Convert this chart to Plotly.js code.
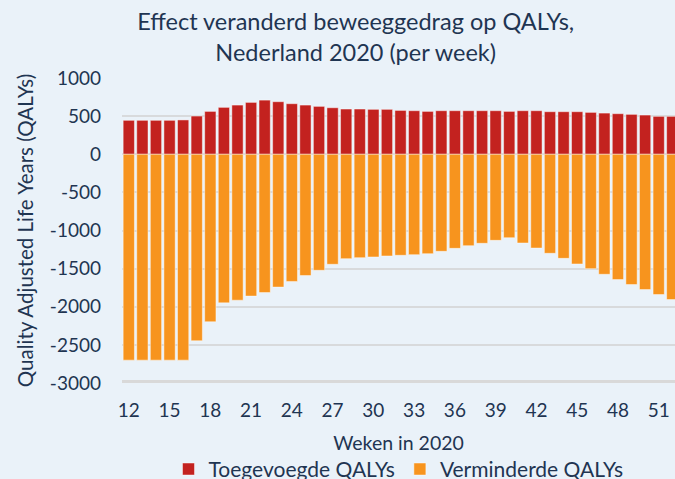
<!DOCTYPE html>
<html>
<head>
<meta charset="utf-8">
<script src="https://cdn.plot.ly/plotly-3.0.1.min.js"></script>
<style>html,body{margin:0;padding:0;background:#EAF2F9;}#chart{width:675px;height:479px;}</style>
</head>
<body>
<div id="chart"></div>
<script>
var weeks = [12,13,14,15,16,17,18,19,20,21,22,23,24,25,26,27,28,29,30,31,32,33,34,35,36,37,38,39,40,41,42,43,44,45,46,47,48,49,50,51,52];
var toegevoegd = [445,445,445,445,450,501,562,615,645,680,710,689,663,645,628,610,593,593,589,589,575,571,562,571,571,571,571,571,562,571,571,558,558,558,549,540,532,523,514,497,497];
var verminderd = [-2700,-2700,-2700,-2700,-2700,-2446,-2197,-1949,-1914,-1860,-1814,-1742,-1668,-1591,-1522,-1443,-1369,-1356,-1347,-1334,-1325,-1317,-1304,-1273,-1234,-1199,-1168,-1129,-1095,-1164,-1230,-1299,-1365,-1439,-1500,-1574,-1644,-1709,-1775,-1840,-1906];
var seriesNames = ['Toegevoegde QALYs','Verminderde QALYs'];
var xTickVals = [12,15,18,21,24,27,30,33,36,39,42,45,48,51];
var yTickVals = [-3000,-2500,-2000,-1500,-1000,-500,0,500,1000];
var yTickText = ['-3000','-2500','-2000','-1500','-1000','-500','0','500','1000'];

var textColor = '#1F3552';
var traces = [
  {type:'bar', x:weeks, y:toegevoegd, name:seriesNames[0], width:0.83,
   marker:{color:'#C3221F', line:{color:'rgba(255,255,255,0.45)', width:1}}},
  {type:'bar', x:weeks, y:verminderd, name:seriesNames[1], width:0.83,
   marker:{color:'#F7941E', line:{color:'rgba(255,255,255,0.45)', width:1}}}
];
var layout = {
  width:675, height:479,
  paper_bgcolor:'#EAF2F9', plot_bgcolor:'#EAF2F9',
  font:{family:'Lato, sans-serif', color:textColor, size:19},
  barmode:'relative',
  margin:{l:122, r:0, t:78, b:95.5, pad:0, autoexpand:false},
  title:{text:'Effect veranderd beweeggedrag op QALYs,<br>Nederland 2020 (per week)',
    x:0.527, xref:'container', xanchor:'center', y:0.937, yref:'container', yanchor:'top',
    automargin:false, font:{size:23.5, color:textColor}},
  xaxis:{range:[11.5,52.2], tickvals:xTickVals, ticktext:xTickVals.map(String),
    showgrid:false, zeroline:false, showline:false, ticks:'', ticklabelstandoff:14,
    tickfont:{size:19},
    title:{text:'Weken in 2020', font:{size:19.5}, standoff:16}},
  yaxis:{range:[-3000,1000], tickvals:yTickVals, ticktext:yTickText,
    showgrid:true, gridcolor:'#D8DADC', gridwidth:2, zeroline:false, showline:false,
    ticks:'', ticklabelstandoff:20, tickfont:{size:19},
    title:{text:'Quality Adjusted Life Years (QALYs)', font:{size:20.5}, standoff:10}},
  shapes:[{type:'line', xref:'paper', x0:0, x1:1, yref:'y', y0:-3000, y1:-3000,
    line:{color:'#D9D9D9', width:6}, layer:'above'}],
  legend:{orientation:'h', x:0.5, xanchor:'center', y:-0.216, yanchor:'top',
    font:{size:21}, bgcolor:'rgba(0,0,0,0)', traceorder:'normal'},
  showlegend:true
};
Plotly.newPlot('chart', traces, layout, {displayModeBar:false, staticPlot:true});
</script>
</body>
</html>
